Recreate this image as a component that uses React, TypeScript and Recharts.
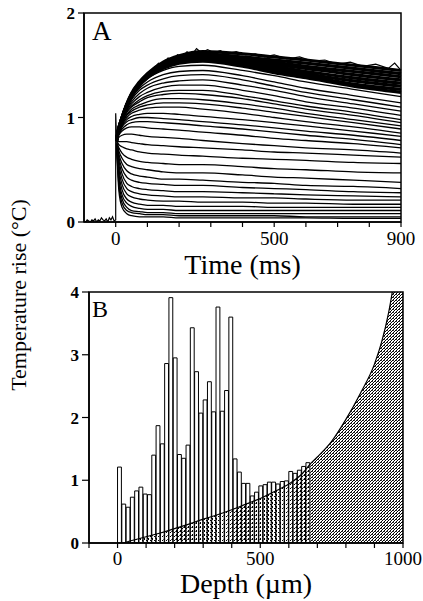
import React from "react";
import {
  ComposedChart,
  Line,
  Bar,
  Area,
  XAxis,
  YAxis,
  ReferenceArea,
} from "recharts";

const FONT = "Liberation Serif, Times New Roman, Times, serif";

// ---------- Panel A data ----------
const timePoints = [3, 6, 10, 20, 35, 50, 75, 100, 150, 200, 275, 400, 500, 600, 750, 900];

const massCurves = [
  [0.78, 0.84, 0.9, 1.0, 1.13, 1.23, 1.34, 1.42, 1.53, 1.59, 1.63, 1.61, 1.58, 1.55, 1.5, 1.45],
  [0.78, 0.84, 0.9, 1.0, 1.12, 1.22, 1.33, 1.41, 1.52, 1.58, 1.61, 1.58, 1.55, 1.52, 1.47, 1.42],
  [0.78, 0.84, 0.9, 1.0, 1.12, 1.22, 1.33, 1.41, 1.51, 1.57, 1.6, 1.57, 1.53, 1.49, 1.44, 1.39],
  [0.78, 0.84, 0.9, 0.99, 1.12, 1.22, 1.33, 1.4, 1.5, 1.56, 1.58, 1.55, 1.51, 1.47, 1.41, 1.36],
  [0.78, 0.84, 0.89, 0.99, 1.12, 1.21, 1.32, 1.4, 1.5, 1.55, 1.57, 1.53, 1.49, 1.44, 1.38, 1.33],
  [0.78, 0.84, 0.89, 0.99, 1.11, 1.21, 1.32, 1.39, 1.49, 1.54, 1.56, 1.52, 1.47, 1.42, 1.35, 1.3],
  [0.78, 0.84, 0.89, 0.99, 1.11, 1.21, 1.31, 1.39, 1.48, 1.53, 1.55, 1.5, 1.45, 1.4, 1.32, 1.27],
  [0.78, 0.84, 0.89, 0.99, 1.11, 1.2, 1.31, 1.38, 1.47, 1.52, 1.54, 1.49, 1.43, 1.38, 1.3, 1.24],
];

const depthCurves = [
  [0.78, 0.84, 0.89, 0.99, 1.11, 1.2, 1.3, 1.37, 1.45, 1.49, 1.5, 1.45, 1.4, 1.34, 1.27, 1.2],
  [0.78, 0.84, 0.89, 0.99, 1.1, 1.19, 1.28, 1.34, 1.41, 1.44, 1.45, 1.4, 1.34, 1.28, 1.21, 1.14],
  [0.78, 0.84, 0.89, 0.98, 1.09, 1.17, 1.26, 1.31, 1.37, 1.4, 1.41, 1.36, 1.3, 1.24, 1.17, 1.1],
  [0.78, 0.84, 0.89, 0.98, 1.08, 1.15, 1.23, 1.28, 1.33, 1.35, 1.36, 1.31, 1.26, 1.2, 1.13, 1.06],
  [0.78, 0.83, 0.88, 0.97, 1.07, 1.13, 1.2, 1.24, 1.29, 1.31, 1.31, 1.26, 1.21, 1.15, 1.09, 1.02],
  [0.78, 0.83, 0.88, 0.97, 1.06, 1.11, 1.17, 1.21, 1.25, 1.26, 1.26, 1.21, 1.16, 1.11, 1.05, 0.98],
  [0.78, 0.83, 0.88, 0.96, 1.05, 1.1, 1.15, 1.19, 1.22, 1.23, 1.22, 1.18, 1.13, 1.08, 1.02, 0.95],
  [0.78, 0.83, 0.87, 0.95, 1.03, 1.08, 1.12, 1.15, 1.18, 1.18, 1.17, 1.13, 1.09, 1.04, 0.98, 0.92],
  [0.78, 0.83, 0.87, 0.94, 1.02, 1.06, 1.1, 1.12, 1.14, 1.14, 1.13, 1.09, 1.05, 1.01, 0.95, 0.89],
  [0.78, 0.82, 0.86, 0.93, 1.0, 1.04, 1.07, 1.09, 1.1, 1.1, 1.08, 1.04, 1.0, 0.96, 0.91, 0.85],
  [0.78, 0.82, 0.86, 0.92, 0.98, 1.01, 1.03, 1.04, 1.04, 1.03, 1.01, 0.98, 0.95, 0.92, 0.87, 0.82],
  [0.78, 0.81, 0.85, 0.91, 0.96, 0.98, 1.0, 1.0, 0.99, 0.98, 0.96, 0.93, 0.9, 0.87, 0.83, 0.78],
  [0.78, 0.81, 0.84, 0.89, 0.93, 0.95, 0.96, 0.96, 0.95, 0.94, 0.92, 0.89, 0.86, 0.83, 0.79, 0.74],
  [0.78, 0.8, 0.83, 0.87, 0.9, 0.91, 0.91, 0.9, 0.89, 0.88, 0.86, 0.83, 0.8, 0.78, 0.75, 0.71],
  [0.78, 0.79, 0.81, 0.83, 0.84, 0.84, 0.83, 0.82, 0.81, 0.8, 0.78, 0.75, 0.73, 0.71, 0.69, 0.66],
  [0.77, 0.77, 0.77, 0.77, 0.77, 0.76, 0.75, 0.74, 0.73, 0.72, 0.71, 0.69, 0.67, 0.66, 0.64, 0.62],
  [0.77, 0.76, 0.74, 0.72, 0.7, 0.69, 0.67, 0.66, 0.65, 0.64, 0.63, 0.61, 0.6, 0.59, 0.57, 0.56],
  [0.76, 0.74, 0.71, 0.66, 0.62, 0.6, 0.58, 0.57, 0.56, 0.55, 0.55, 0.53, 0.51, 0.5, 0.48, 0.47],
  [0.76, 0.73, 0.68, 0.61, 0.55, 0.53, 0.51, 0.5, 0.48, 0.47, 0.47, 0.45, 0.43, 0.42, 0.4, 0.38],
  [0.75, 0.71, 0.65, 0.56, 0.49, 0.46, 0.44, 0.43, 0.41, 0.41, 0.4, 0.38, 0.37, 0.35, 0.34, 0.32],
  [0.75, 0.7, 0.62, 0.51, 0.43, 0.4, 0.38, 0.37, 0.36, 0.35, 0.35, 0.33, 0.32, 0.31, 0.29, 0.28],
  [0.74, 0.68, 0.59, 0.46, 0.37, 0.34, 0.32, 0.31, 0.3, 0.29, 0.29, 0.28, 0.27, 0.26, 0.25, 0.24],
  [0.74, 0.66, 0.55, 0.41, 0.32, 0.29, 0.27, 0.26, 0.25, 0.24, 0.24, 0.23, 0.23, 0.22, 0.21, 0.21],
  [0.73, 0.64, 0.51, 0.36, 0.27, 0.24, 0.22, 0.21, 0.2, 0.2, 0.19, 0.19, 0.18, 0.18, 0.17, 0.17],
  [0.73, 0.62, 0.47, 0.31, 0.22, 0.19, 0.17, 0.16, 0.16, 0.15, 0.15, 0.15, 0.14, 0.14, 0.14, 0.14],
  [0.72, 0.6, 0.43, 0.26, 0.18, 0.15, 0.13, 0.12, 0.12, 0.11, 0.11, 0.11, 0.11, 0.11, 0.11, 0.11],
  [0.72, 0.57, 0.39, 0.22, 0.14, 0.11, 0.1, 0.09, 0.09, 0.08, 0.08, 0.08, 0.08, 0.08, 0.08, 0.08],
  [0.71, 0.54, 0.35, 0.18, 0.11, 0.09, 0.08, 0.07, 0.07, 0.06, 0.06, 0.06, 0.06, 0.05, 0.05, 0.05],
  [0.7, 0.5, 0.3, 0.14, 0.08, 0.06, 0.05, 0.05, 0.05, 0.04, 0.04, 0.04, 0.04, 0.04, 0.035, 0.035],
];

// pre-flash baseline and the stimulus spike
const baselineTimes = [-100, -95, -90, -85, -80, -75, -70, -65, -60, -55, -50, -45, -40, -35, -30, -25, -20, -15, -10, -5, 0, 0, 3];
const baselineValues = [0.01, 0.0, 0.02, 0.01, 0.0, 0.02, 0.01, 0.03, 0.0, 0.02, 0.01, 0.04, 0.02, 0.01, 0.03, 0.0, 0.04, 0.02, 0.05, 0.01, 0.02, 1.04, 0.76];

// noisy upper edge of the densest traces
const noiseTimes = [120, 135, 150, 165, 180, 195, 210, 225, 240, 255, 270, 290, 310, 330, 350, 380, 410, 440, 470, 500, 540, 580, 620, 660, 700, 740, 780, 820, 860, 880, 900];
const noiseValues = [1.47, 1.52, 1.5, 1.57, 1.55, 1.6, 1.58, 1.63, 1.6, 1.66, 1.62, 1.65, 1.62, 1.64, 1.61, 1.63, 1.6, 1.61, 1.58, 1.6, 1.56, 1.58, 1.54, 1.55, 1.51, 1.53, 1.49, 1.51, 1.47, 1.52, 1.45];

const timeTicks = [0, 100, 200, 300, 400, 500, 600, 700, 800, 900];
const timeLabels = [0, 500, 900];
const tempTicksA = [0, 1, 2];

// ---------- Panel B data ----------
const binDepths = [
  7.5, 22.5, 37.5, 52.5, 67.5, 82.5, 97.5, 112.5, 127.5, 142.5, 157.5, 172.5, 187.5, 202.5, 217.5,
  232.5, 247.5, 262.5, 277.5, 292.5, 307.5, 322.5, 337.5, 352.5, 367.5, 382.5, 397.5, 412.5, 427.5, 442.5,
  457.5, 472.5, 487.5, 502.5, 517.5, 532.5, 547.5, 562.5, 577.5, 592.5, 607.5, 622.5, 637.5, 652.5, 667.5,
];
const binValues = [
  1.21, 0.62, 0.57, 0.73, 0.83, 0.89, 0.78, 0.77, 1.4, 1.87, 1.58, 2.86, 3.91, 2.95, 1.41,
  1.35, 1.56, 3.43, 2.73, 2.07, 2.28, 2.57, 2.09, 3.76, 2.1, 2.43, 3.6, 1.34, 1.13, 0.95,
  0.95, 0.75, 0.81, 0.91, 0.93, 0.97, 0.97, 0.94, 0.98, 0.99, 1.14, 1.11, 1.16, 1.22, 1.28,
];
const BIN_WIDTH = 15;

const curveDepthsNear = [20, 50, 100, 150, 200, 250, 300, 350, 400, 450, 500, 550, 600, 650, 675];
const curveValuesNear = [0, 0.04, 0.1, 0.16, 0.23, 0.3, 0.38, 0.45, 0.53, 0.62, 0.71, 0.82, 0.94, 1.12, 1.26];
const curveDepthsFar = [675, 700, 750, 800, 850, 900, 925, 950, 975, 1000];
const curveValuesFar = [1.26, 1.37, 1.62, 1.97, 2.38, 2.85, 3.2, 3.68, 4.35, 5.1];

const depthTicks = [-100, 0, 100, 200, 300, 400, 500, 600, 700, 800, 900, 1000];
const depthLabels = [0, 500, 1000];
const tempTicksB = [0, 1, 2, 3, 4];

// ---------- derived tables ----------
const panelARows = timePoints.map((t, i) => {
  const row: Record<string, number> = { t };
  massCurves.forEach((c, k) => (row["m" + k] = c[i]));
  depthCurves.forEach((c, k) => (row["d" + k] = c[i]));
  return row;
});
const baselineRows = baselineTimes.map((t, i) => ({ t, b: baselineValues[i] }));
const noiseRows = noiseTimes.map((t, i) => ({ t, n: noiseValues[i] }));

const binRows = binDepths.map((depth, i) => ({ depth, count: binValues[i] }));
const nearRows = curveDepthsNear.map((depth, i) => ({ depth, curve: curveValuesNear[i] }));
const farRows = curveDepthsFar.map((depth, i) => ({ depth, curve: curveValuesFar[i] }));

// ---------- layout ----------
const W = 423;
const A_H = 285;
const B_TOP = 270;
const B_H = 331;
const B_MARGIN = { top: 22, right: 20, bottom: 0, left: 39 };
const Y_AXIS_W = 50;
const X_AXIS_H_B = 58;
const B_PLOT_W = W - B_MARGIN.left - B_MARGIN.right - Y_AXIS_W;
const B_DOMAIN: [number, number] = [-100, 1000];
const barPx = (BIN_WIDTH * B_PLOT_W) / (B_DOMAIN[1] - B_DOMAIN[0]);

const xTickStyle = { fill: "#000", fontSize: 19, fontFamily: FONT };
const yTickStyle = { fill: "#000", fontSize: 17, fontFamily: FONT, fontWeight: "bold" as const };
const axisStroke = { stroke: "#000", strokeWidth: 1.5 };
const tickStroke = { stroke: "#000", strokeWidth: 1.2 };

export default function App() {
  return (
    <div style={{ position: "absolute", left: 0, top: 0, width: W, height: 601, background: "#fff", fontFamily: FONT }}>
      <div style={{ position: "absolute", left: 0, top: 0 }}>
        <ComposedChart width={W} height={A_H} data={panelARows} margin={{ top: 13, right: 22, bottom: 0, left: 34 }}>
          <XAxis
            dataKey="t"
            type="number"
            domain={[-100, 900]}
            ticks={timeTicks}
            tickFormatter={(v: number) => (timeLabels.includes(v) ? String(v) : "")}
            tick={xTickStyle}
            tickSize={5}
            tickMargin={5}
            height={63}
            axisLine={axisStroke}
            tickLine={tickStroke}
            interval={0}
            label={{ value: "Time (ms)", position: "insideBottom", offset: 11, fill: "#000", fontSize: 28, fontFamily: FONT }}
          />
          <YAxis
            type="number"
            domain={[0, 2]}
            ticks={tempTicksA}
            tick={yTickStyle}
            width={Y_AXIS_W}
            tickSize={6}
            tickMargin={3}
            axisLine={axisStroke}
            tickLine={tickStroke}
            interval={0}
            allowDataOverflow
          />
          <ReferenceArea x1={-100} x2={900} y1={0} y2={2} fill="none" fillOpacity={0} stroke="#000" strokeWidth={1.5} />
          {depthCurves.map((_, k) => (
            <Line
              key={"d" + k}
              dataKey={"d" + k}
              type="monotone"
              stroke="#000"
              strokeWidth={1.3}
              dot={false}
              activeDot={false}
              isAnimationActive={false}
            />
          ))}
          {massCurves.map((_, k) => (
            <Line
              key={"m" + k}
              dataKey={"m" + k}
              type="monotone"
              stroke="#000"
              strokeWidth={3.2}
              dot={false}
              activeDot={false}
              isAnimationActive={false}
            />
          ))}
          <Line data={noiseRows} dataKey="n" type="linear" stroke="#000" strokeWidth={1.2} dot={false} activeDot={false} isAnimationActive={false} />
          <Line data={baselineRows} dataKey="b" type="linear" stroke="#000" strokeWidth={1.2} dot={false} activeDot={false} isAnimationActive={false} />
        </ComposedChart>
      </div>

      {/* Panel B: histogram layer */}
      <div style={{ position: "absolute", left: 0, top: B_TOP }}>
        <ComposedChart width={W} height={B_H} data={binRows} margin={B_MARGIN}>
          <XAxis
            dataKey="depth"
            type="number"
            domain={B_DOMAIN}
            ticks={depthTicks}
            tick={false}
            tickLine={false}
            axisLine={false}
            height={X_AXIS_H_B}
          />
          <YAxis type="number" domain={[0, 4]} ticks={tempTicksB} tick={false} tickLine={false} axisLine={false} width={Y_AXIS_W} allowDataOverflow />
          <Bar dataKey="count" barSize={barPx} fill="none" stroke="#000" strokeWidth={1} isAnimationActive={false} />
        </ComposedChart>
      </div>

      {/* Panel B: attenuation curve, axes and frame */}
      <div style={{ position: "absolute", left: 0, top: B_TOP }}>
        <ComposedChart width={W} height={B_H} data={nearRows} margin={B_MARGIN}>
          <defs>
            <pattern id="stipNear" width="4" height="4" patternUnits="userSpaceOnUse">
              <rect x="0" y="0" width="1" height="2" fill="#000" />
              <rect x="2" y="2" width="1" height="1" fill="#000" />
              <rect x="3" y="1" width="1" height="1" fill="#555" />
            </pattern>
            <pattern id="stipFar" width="3" height="3" patternUnits="userSpaceOnUse">
              <rect x="0" y="2" width="1" height="1" fill="#000" />
              <rect x="1" y="1" width="1" height="1" fill="#000" />
              <rect x="2" y="0" width="1" height="1" fill="#000" />
              <rect x="0" y="0" width="1" height="1" fill="#444" />
            </pattern>
          </defs>
          <XAxis
            dataKey="depth"
            type="number"
            domain={B_DOMAIN}
            ticks={depthTicks}
            tickFormatter={(v: number) => (depthLabels.includes(v) ? String(v) : "")}
            tick={xTickStyle}
            tickSize={5}
            tickMargin={4}
            height={X_AXIS_H_B}
            axisLine={axisStroke}
            tickLine={tickStroke}
            interval={0}
            label={{ value: "Depth (µm)", position: "insideBottom", offset: 8, fill: "#000", fontSize: 28, fontFamily: FONT }}
          />
          <YAxis
            type="number"
            domain={[0, 4]}
            ticks={tempTicksB}
            tick={yTickStyle}
            width={Y_AXIS_W}
            tickSize={7}
            tickMargin={3}
            axisLine={axisStroke}
            tickLine={tickStroke}
            interval={0}
            allowDataOverflow
          />
          <Area
            dataKey="curve"
            type="monotone"
            stroke="#000"
            strokeWidth={1.2}
            fill="url(#stipNear)"
            fillOpacity={1}
            dot={false}
            activeDot={false}
            isAnimationActive={false}
          />
          <Area
            data={farRows}
            dataKey="curve"
            type="monotone"
            stroke="#000"
            strokeWidth={1.2}
            fill="url(#stipFar)"
            fillOpacity={1}
            dot={false}
            activeDot={false}
            isAnimationActive={false}
          />
          <ReferenceArea x1={-100} x2={1000} y1={0} y2={4} fill="none" fillOpacity={0} stroke="#000" strokeWidth={1.5} />
        </ComposedChart>
      </div>

      <svg width={W} height={601} style={{ position: "absolute", left: 0, top: 0, pointerEvents: "none" }}>
        <text x={92} y={40} fontSize={27} fontFamily={FONT} fill="#000">A</text>
        <text x={92} y={317} fontSize={24} fontFamily={FONT} fill="#000">B</text>
        <text
          x={26}
          y={295}
          fontSize={22}
          fontFamily={FONT}
          fill="#000"
          textAnchor="middle"
          transform="rotate(-90 26 295)"
        >
          Temperature rise (°C)
        </text>
      </svg>
    </div>
  );
}
